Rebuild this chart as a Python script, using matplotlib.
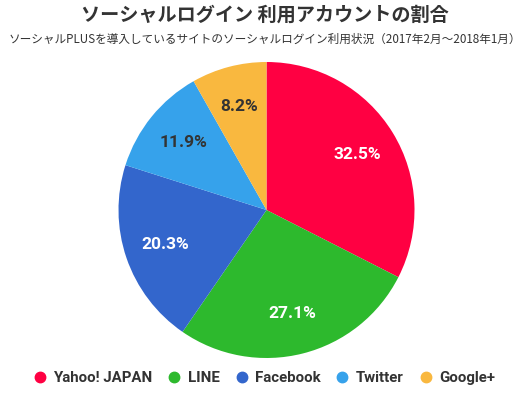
import matplotlib
matplotlib.use("Agg")
import matplotlib.pyplot as plt
from matplotlib.lines import Line2D
import numpy as np

plt.rcParams['font.family'] = ['Noto Sans CJK JP', 'DejaVu Sans']

categories = ["Yahoo! JAPAN", "LINE", "Facebook", "Twitter", "Google+"]
values = [32.5, 27.1, 20.3, 11.9, 8.2]
colors = ["#FF0042", "#2DB92D", "#3366CC", "#36A2EB", "#F9B83F"]
label_colors = ["white", "white", "white", "#333333", "#333333"]

title = "ソーシャルログイン 利用アカウントの割合"
subtitle = "ソーシャルPLUSを導入しているサイトのソーシャルログイン利用状況（2017年2月〜2018年1月）"

fig = plt.figure(figsize=(5.29, 3.98), dpi=100)
fig.patch.set_facecolor("white")

# pie axes: center (266.5, 210) px, radius 148 px
cx, cy, r = 266.5, 210, 148
W, H = 529, 398
ax = fig.add_axes([(cx - r) / W, 1 - (cy + r) / H, 2 * r / W, 2 * r / H])
wedges, texts = ax.pie(values, colors=colors, startangle=90, counterclock=False,
                       radius=1.0, wedgeprops=dict(linewidth=0))
ax.set_xlim(-1, 1)
ax.set_ylim(-1, 1)
ax.set_aspect("equal")
ax.axis("off")

total = sum(values)
start = 90.0
for v, lc in zip(values, label_colors):
    mid = start - v / total * 360 / 2
    start -= v / total * 360
    d = 0.72
    ax.text(d * np.cos(np.radians(mid)), d * np.sin(np.radians(mid)), f"{v:.1f}%",
            ha="center", va="center", color=lc, fontsize=12.5, fontweight="bold",
            family=["Roboto", "DejaVu Sans"])

fig.text(0.5, 1 - 15 / H, title, ha="center", va="center", fontsize=13.8,
         fontweight="bold", color="#333333")
fig.text(0.5, 1 - 39 / H, subtitle, ha="center", va="center", fontsize=8.4,
         color="#333333")

handles = [Line2D([0], [0], marker="o", linestyle="none", markersize=7.5,
                  markerfacecolor=c, markeredgecolor=c) for c in colors]
leg = fig.legend(handles, categories, loc="center", bbox_to_anchor=(0.5, 1 - 378 / H),
                 ncol=5, frameon=False, handlelength=0.8, handletextpad=0.5,
                 columnspacing=1.05,
                 prop=dict(family=["Roboto", "DejaVu Sans"], weight="bold", size=10.8))
for t in leg.get_texts():
    t.set_color("#333333")

fig.savefig("out.png", dpi=100, facecolor="white")
